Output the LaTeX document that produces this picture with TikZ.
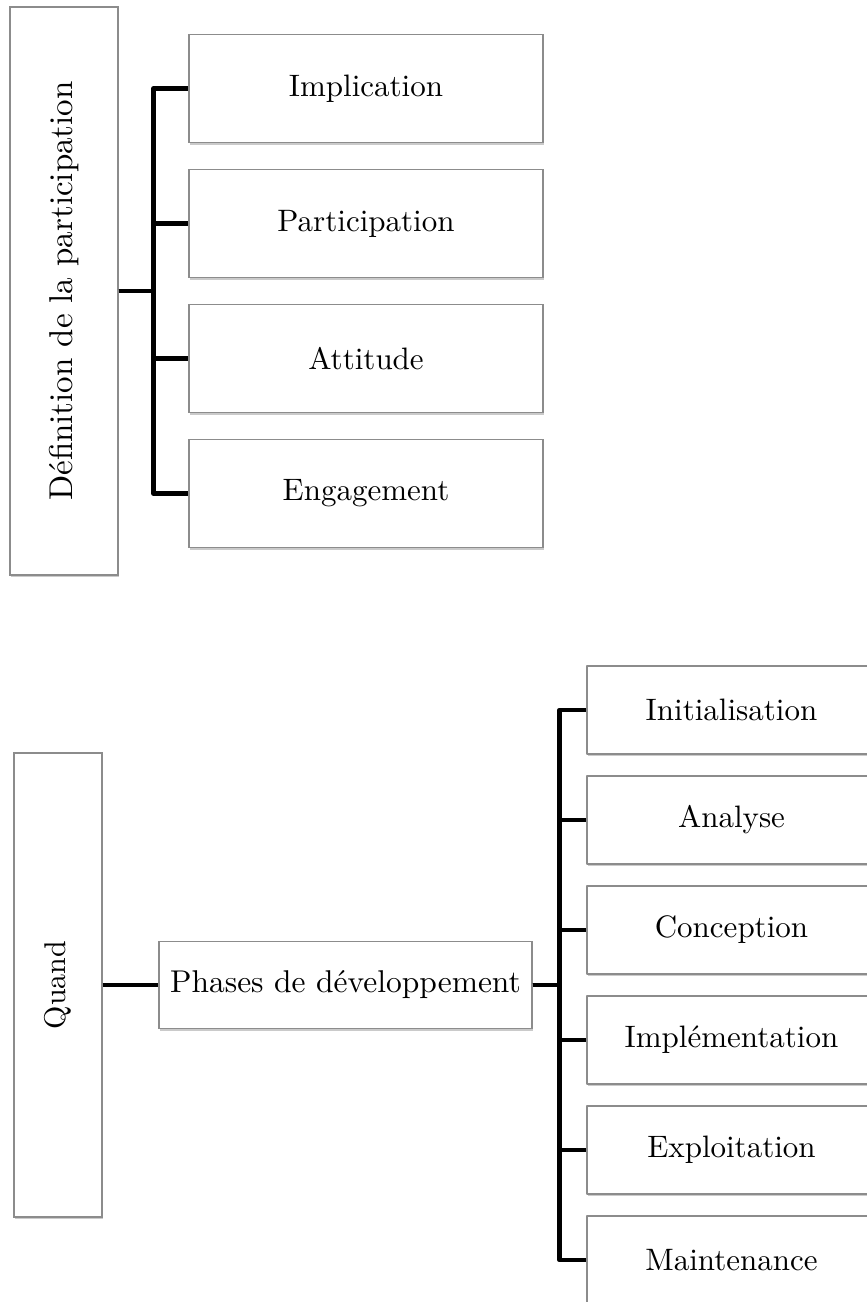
\documentclass[tikz,border=0pt]{standalone}
\usepackage{fontspec}
\setmainfont{lmroman10-regular.otf}
\usetikzlibrary{trees,calc,shadows}

\begin{document}
\begin{tikzpicture}
  [x=1pt, y=1pt, grow'=right,
   box/.style={draw=black!45, line width=1.2pt, fill=white, inner sep=0pt,
     drop shadow={shadow xshift=1pt, shadow yshift=-2pt, fill=black!60, opacity=0.35}},
   edge from parent/.style={draw, line width=4.5pt, line join=round},
   edge from parent path={(\tikzparentnode.east) -| ($(\tikzparentnode.east)!0.5!(\tikzchildnode.west)$) |- (\tikzchildnode.west)}]
  \useasboundingbox (0,0) rectangle (867,-1302);
  % Définition de la participation
  \begin{scope}
    [level 1/.style={level distance=302pt, sibling distance=135pt},
     leaf/.style={box, minimum width=354pt, minimum height=108pt, font=\fontsize{31}{37}\selectfont}]
  \node[box, minimum width=108pt, minimum height=568pt, font=\fontsize{33}{39}\selectfont] (def) at (64,-291)
    {\rotatebox{90}{Définition de la participation}}
     child {node[leaf] (impl) {Implication}}
     child {node[leaf] (part) {Participation}}
     child {node[leaf] (att) {Attitude}}
     child {node[leaf] (eng) {Engagement}};
  \end{scope}
  % Quand
  \begin{scope}
    [level 1/.style={level distance=287.5pt},
     level 2/.style={level distance=386pt, sibling distance=110pt},
     leaf/.style={box, minimum width=289pt, minimum height=88pt, font=\fontsize{31}{37}\selectfont}]
  \node[box, minimum width=88pt, minimum height=464pt, font=\fontsize{30}{36}\selectfont] (quand) at (58,-985)
    {\rotatebox{90}{Quand}}
     child {node[box, minimum width=373pt, minimum height=87pt, font=\fontsize{31.5}{37}\selectfont] (phases) {Phases de développement}
        child {node[leaf] (init) {Initialisation}}
        child {node[leaf] (ana) {Analyse}}
        child {node[leaf] (conc) {Conception}}
        child {node[leaf] (implem) {Implémentation}}
        child {node[leaf] (expl) {Exploitation}}
        child {node[leaf] (maint) {Maintenance}}
     };
  \end{scope}
\end{tikzpicture}
\end{document}
